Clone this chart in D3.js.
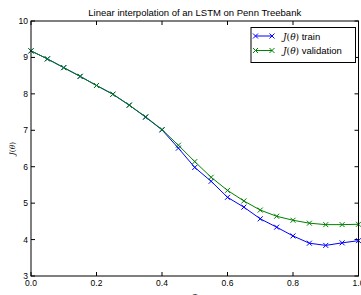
<!DOCTYPE html>
<html>
<head>
<meta charset="utf-8">
<script src="https://cdn.jsdelivr.net/npm/d3@7"></script>
<style>
  body { margin: 0; background: #fff; }
  svg { display: block; font-family: "Liberation Sans", Arial, sans-serif; }
</style>
</head>
<body>
<div id="chart"></div>
<script>
// interpolation coefficient alpha, 0 .. 1 in steps of 0.05
const alphas = d3.range(21).map(i => i / 20);
const trainCost = [9.18, 8.96, 8.72, 8.48, 8.23, 7.99, 7.69, 7.36, 7.01, 6.51,
                   5.98, 5.60, 5.16, 4.89, 4.57, 4.34, 4.10, 3.90, 3.84, 3.91, 3.97];
const validCost = [9.18, 8.96, 8.72, 8.48, 8.23, 7.99, 7.69, 7.37, 7.02, 6.59,
                   6.14, 5.71, 5.35, 5.06, 4.81, 4.64, 4.53, 4.45, 4.41, 4.41, 4.42];
const xTicks = [0, 0.2, 0.4, 0.6, 0.8, 1.0];
const yTicks = [3, 4, 5, 6, 7, 8, 9, 10];

const W = 361, H = 295;
const margin = {top: 21, right: 2, bottom: 19, left: 31};

const svg = d3.select("#chart").append("svg")
  .attr("width", W).attr("height", H);

const x = d3.scaleLinear().domain([0, 1]).range([margin.left, W - margin.right - 0.5]);
const y = d3.scaleLinear().domain([3, 10]).range([H - margin.bottom, margin.top]);

// ticks (inside, on all four sides)
const tickLen = 4;
const g = svg.append("g");
g.selectAll(".xt").data(xTicks).enter().append("path")
  .attr("d", d => `M${x(d)},${y(3)}V${y(3) - tickLen}M${x(d)},${y(10)}V${y(10) + tickLen}`)
  .attr("stroke", "#000").attr("stroke-width", 1);
g.selectAll(".yt").data(yTicks).enter().append("path")
  .attr("d", d => `M${x(0)},${y(d)}H${x(0) + tickLen}M${x(1)},${y(d)}H${x(1) - tickLen}`)
  .attr("stroke", "#000").attr("stroke-width", 1);

// tick labels
g.selectAll(".xl").data(xTicks).enter().append("text")
  .attr("x", d => x(d)).attr("y", y(3) + 10)
  .attr("text-anchor", "middle").attr("font-size", 8.5)
  .text(d3.format(".1f"));
g.selectAll(".yl").data(yTicks).enter().append("text")
  .attr("x", x(0) - 3).attr("y", d => y(d) + 3)
  .attr("text-anchor", "end").attr("font-size", 8.5)
  .text(d => d);

// lines + x markers
function series(vals, color) {
  const pts = alphas.map((a, i) => [x(a), y(vals[i])]);
  svg.append("path")
    .attr("d", d3.line()(pts))
    .attr("fill", "none").attr("stroke", color).attr("stroke-width", 1);
  svg.append("g").selectAll("path").data(pts).enter().append("path")
    .attr("d", p => `M${p[0]-2.5},${p[1]-2.5}L${p[0]+2.5},${p[1]+2.5}M${p[0]-2.5},${p[1]+2.5}L${p[0]+2.5},${p[1]-2.5}`)
    .attr("stroke", color).attr("stroke-width", 1);
}
series(trainCost, "#0000ff");
series(validCost, "#008000");

// frame
svg.append("rect")
  .attr("x", x(0)).attr("y", y(10))
  .attr("width", x(1) - x(0)).attr("height", y(3) - y(10))
  .attr("fill", "none").attr("stroke", "#000").attr("stroke-width", 1);

// title and axis labels
svg.append("text")
  .attr("x", (x(0) + x(1)) / 2).attr("y", 16)
  .attr("text-anchor", "middle").attr("font-size", 9.5)
  .text("Linear interpolation of an LSTM on Penn Treebank");

svg.append("text")
  .attr("transform", `translate(15,${(y(3) + y(10)) / 2}) rotate(-90)`)
  .attr("text-anchor", "middle").attr("font-size", 7.5)
  .attr("font-family", "DejaVu Serif, serif")
  .html('<tspan font-style="italic">J</tspan>(<tspan font-style="italic">θ</tspan>)');

svg.append("text")
  .attr("x", (x(0) + x(1)) / 2).attr("y", 298)
  .attr("text-anchor", "middle").attr("font-size", 8)
  .attr("font-family", "DejaVu Serif, serif").attr("font-style", "italic")
  .text("α");

// legend
const leg = svg.append("g").attr("transform", "translate(251,27.5)");
leg.append("rect").attr("width", 104.5).attr("height", 35)
  .attr("fill", "#fff").attr("stroke", "#000").attr("stroke-width", 1);
const items = [{name: "train", color: "#0000ff"}, {name: "validation", color: "#008000"}];
items.forEach((it, i) => {
  const ly = 8.5 + i * 14.5;
  leg.append("path").attr("d", `M4.5,${ly}H21`).attr("stroke", it.color).attr("stroke-width", 1);
  [4.5, 21].forEach(mx => {
    leg.append("path")
      .attr("d", `M${mx-2.5},${ly-2.5}L${mx+2.5},${ly+2.5}M${mx-2.5},${ly+2.5}L${mx+2.5},${ly-2.5}`)
      .attr("stroke", it.color).attr("stroke-width", 1);
  });
  const t = leg.append("text").attr("x", 32).attr("y", ly + 3.5).attr("font-size", 9.5);
  t.append("tspan").attr("font-family", "DejaVu Serif, serif").attr("font-style", "italic").attr("font-size", 9).text("J");
  t.append("tspan").attr("font-family", "DejaVu Serif, serif").attr("font-size", 9).text("(");
  t.append("tspan").attr("font-family", "DejaVu Serif, serif").attr("font-style", "italic").attr("font-size", 9).text("θ");
  t.append("tspan").attr("font-family", "DejaVu Serif, serif").attr("font-size", 9).text(")");
  t.append("tspan").text(" " + it.name);
});
</script>
</body>
</html>
